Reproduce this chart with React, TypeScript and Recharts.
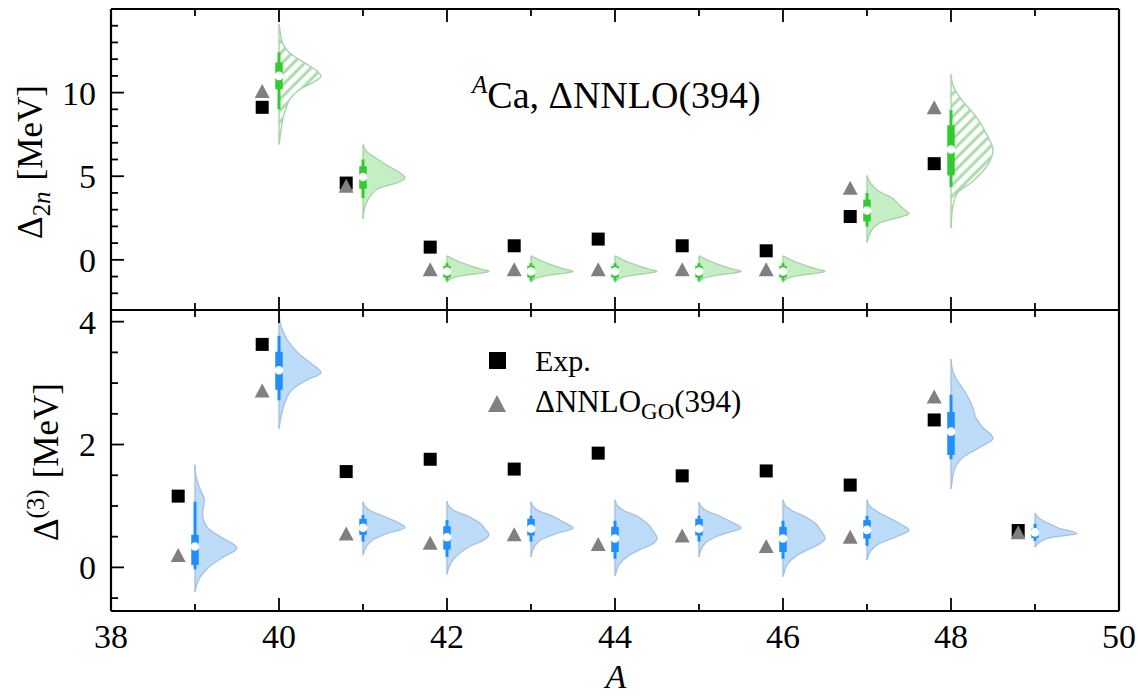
import React from 'react';
import { ComposedChart, Area, Scatter, XAxis, YAxis } from 'recharts';

const FONT = '"Liberation Serif", "Times New Roman", serif';

// ---------- shared x axis ----------
const xMajorTicks = [38, 40, 42, 44, 46, 48, 50];
const xMinorTicks = [39, 41, 43, 45, 47, 49];
const xTicks = [...xMajorTicks, ...xMinorTicks].sort((a, b) => a - b);

// ---------- top panel: Delta_2n ----------
const topYMajor = [0, 5, 10];
const topYMinor = [-3, -2, -1, 1, 2, 3, 4, 6, 7, 8, 9, 11, 12, 13, 14];
const topYTicks = [...topYMajor, ...topYMinor].sort((a, b) => a - b);

const topA = [40, 41, 42, 43, 44, 45, 46, 47, 48];
const topExp = [9.12, 4.59, 0.76, 0.84, 1.24, 0.84, 0.54, 2.59, 5.75];
const topGO = [10.1, 4.43, -0.56, -0.56, -0.56, -0.56, -0.56, 4.31, 9.12];
const topMedian = [11.0, 4.95, -0.7, -0.7, -0.7, -0.7, -0.7, 2.95, 6.6];
const topBoxLow = [10.2, 4.25, -1.06, -1.06, -1.06, -1.06, -1.06, 2.3, 5.05];
const topBoxHigh = [11.8, 5.6, -0.36, -0.36, -0.36, -0.36, -0.36, 3.6, 8.05];
const topWhiskLow = [9.0, 3.7, -1.25, -1.25, -1.25, -1.25, -1.25, 2.0, 4.35];
const topWhiskHigh = [12.4, 6.0, -0.2, -0.2, -0.2, -0.2, -0.2, 4.0, 8.96];
const topHatched = [true, false, false, false, false, false, false, false, true];

// violin profiles: [value, half-width in A units]
const topViolin40 = [[6.9, 0], [7.6, 0.02], [8.3, 0.04], [9.0, 0.08], [9.6, 0.13], [10.2, 0.25], [10.6, 0.4], [11.0, 0.5], [11.3, 0.45], [11.7, 0.33], [12.1, 0.2], [12.5, 0.1], [13.0, 0.04], [13.6, 0.015], [14.1, 0]];
const topViolin41 = [[2.45, 0], [2.9, 0.01], [3.4, 0.04], [3.9, 0.1], [4.3, 0.2], [4.6, 0.4], [4.9, 0.5], [5.2, 0.44], [5.6, 0.3], [6.0, 0.18], [6.5, 0.04], [6.9, 0]];
const topViolin42 = [[-1.36, 0], [-1.2, 0.02], [-1.06, 0.08], [-0.9, 0.24], [-0.78, 0.42], [-0.7, 0.5], [-0.56, 0.4], [-0.36, 0.28], [-0.06, 0.12], [0.1, 0.05], [0.24, 0]];
const topViolin43 = [[-1.36, 0], [-1.2, 0.02], [-1.06, 0.08], [-0.9, 0.24], [-0.78, 0.42], [-0.7, 0.5], [-0.56, 0.4], [-0.36, 0.28], [-0.06, 0.12], [0.1, 0.05], [0.24, 0]];
const topViolin44 = [[-1.36, 0], [-1.2, 0.02], [-1.06, 0.08], [-0.9, 0.24], [-0.78, 0.42], [-0.7, 0.5], [-0.56, 0.4], [-0.36, 0.28], [-0.06, 0.12], [0.1, 0.05], [0.24, 0]];
const topViolin45 = [[-1.36, 0], [-1.2, 0.02], [-1.06, 0.08], [-0.9, 0.24], [-0.78, 0.42], [-0.7, 0.5], [-0.56, 0.4], [-0.36, 0.28], [-0.06, 0.12], [0.1, 0.05], [0.24, 0]];
const topViolin46 = [[-1.36, 0], [-1.2, 0.02], [-1.06, 0.08], [-0.9, 0.24], [-0.78, 0.42], [-0.7, 0.5], [-0.56, 0.4], [-0.36, 0.28], [-0.06, 0.12], [0.1, 0.05], [0.24, 0]];
const topViolin47 = [[1.04, 0], [1.4, 0.02], [1.8, 0.06], [2.2, 0.15], [2.5, 0.35], [2.75, 0.5], [2.95, 0.46], [3.3, 0.38], [3.7, 0.3], [4.1, 0.14], [4.6, 0.04], [5.05, 0]];
const topViolin48 = [[1.9, 0], [3.1, 0.02], [3.94, 0.07], [4.75, 0.27], [5.55, 0.42], [6.55, 0.5], [7.55, 0.42], [8.55, 0.3], [9.55, 0.13], [10.35, 0.03], [11.1, 0]];
const topProfiles = [topViolin40, topViolin41, topViolin42, topViolin43, topViolin44, topViolin45, topViolin46, topViolin47, topViolin48];

// ---------- bottom panel: Delta^(3) ----------
const botYMajor = [0, 2, 4];
const botYMinor = [-0.5, 0.5, 1, 1.5, 2.5, 3, 3.5];
const botYTicks = [...botYMajor, ...botYMinor].sort((a, b) => a - b);

const botA = [39, 40, 41, 42, 43, 44, 45, 46, 47, 48, 49];
const botExp = [1.16, 3.63, 1.56, 1.76, 1.6, 1.86, 1.49, 1.57, 1.34, 2.4, 0.6];
const botGO = [0.2, 2.88, 0.55, 0.4, 0.54, 0.38, 0.52, 0.35, 0.5, 2.78, 0.57];
const botMedian = [0.34, 3.21, 0.645, 0.49, 0.63, 0.47, 0.63, 0.47, 0.61, 2.21, 0.57];
const botBoxLow = [0.04, 2.89, 0.53, 0.29, 0.52, 0.25, 0.52, 0.25, 0.47, 1.83, 0.48];
const botBoxHigh = [0.53, 3.51, 0.79, 0.67, 0.79, 0.66, 0.79, 0.66, 0.77, 2.53, 0.63];
const botWhiskLow = [-0.03, 2.72, 0.42, 0.17, 0.42, 0.14, 0.42, 0.14, 0.35, 1.76, 0.43];
const botWhiskHigh = [1.07, 3.77, 0.85, 0.77, 0.84, 0.76, 0.84, 0.76, 0.84, 2.81, 0.71];

const botViolin39 = [[-0.4, 0], [-0.16, 0.06], [0.0, 0.16], [0.17, 0.34], [0.31, 0.5], [0.5, 0.3], [0.66, 0.14], [0.87, 0.09], [1.09, 0.11], [1.31, 0.05], [1.5, 0.01], [1.67, 0]];
const botViolin40 = [[2.26, 0], [2.55, 0.04], [2.75, 0.09], [2.9, 0.16], [3.05, 0.33], [3.17, 0.5], [3.32, 0.38], [3.5, 0.22], [3.7, 0.1], [3.9, 0.03], [4.11, 0]];
const botViolin41 = [[0.2, 0], [0.34, 0.04], [0.45, 0.12], [0.55, 0.28], [0.65, 0.5], [0.74, 0.4], [0.83, 0.25], [0.93, 0.08], [1.0, 0.02], [1.07, 0]];
const botViolin42 = [[-0.11, 0], [0.0, 0.02], [0.12, 0.07], [0.23, 0.15], [0.34, 0.27], [0.44, 0.43], [0.53, 0.5], [0.61, 0.46], [0.72, 0.39], [0.82, 0.27], [0.93, 0.08], [1.0, 0.02], [1.08, 0]];
const botViolin43 = [[0.17, 0], [0.34, 0.04], [0.45, 0.12], [0.55, 0.3], [0.64, 0.5], [0.74, 0.38], [0.83, 0.26], [0.93, 0.08], [1.0, 0.02], [1.07, 0]];
const botViolin44 = [[-0.14, 0], [-0.05, 0.02], [0.05, 0.05], [0.17, 0.14], [0.28, 0.28], [0.38, 0.44], [0.47, 0.5], [0.6, 0.45], [0.72, 0.38], [0.82, 0.28], [0.93, 0.1], [1.0, 0.03], [1.1, 0]];
const botViolin45 = [[0.17, 0], [0.34, 0.04], [0.45, 0.13], [0.55, 0.3], [0.64, 0.5], [0.74, 0.38], [0.83, 0.25], [0.93, 0.08], [1.0, 0.02], [1.06, 0]];
const botViolin46 = [[-0.15, 0], [-0.05, 0.02], [0.05, 0.05], [0.17, 0.14], [0.28, 0.28], [0.38, 0.43], [0.47, 0.5], [0.6, 0.45], [0.72, 0.38], [0.82, 0.27], [0.93, 0.1], [1.0, 0.03], [1.1, 0]];
const botViolin47 = [[0.12, 0], [0.28, 0.05], [0.39, 0.15], [0.5, 0.35], [0.61, 0.5], [0.72, 0.38], [0.8, 0.27], [0.9, 0.13], [1.0, 0.03], [1.1, 0]];
const botViolin48 = [[1.28, 0], [1.47, 0.02], [1.63, 0.05], [1.8, 0.15], [1.96, 0.35], [2.1, 0.5], [2.29, 0.37], [2.45, 0.29], [2.56, 0.27], [2.72, 0.22], [2.89, 0.15], [3.05, 0.07], [3.2, 0.02], [3.39, 0]];
const botViolin49 = [[0.33, 0], [0.38, 0.03], [0.43, 0.08], [0.49, 0.2], [0.55, 0.5], [0.64, 0.28], [0.72, 0.15], [0.8, 0.05], [0.88, 0]];
const botProfiles = [botViolin39, botViolin40, botViolin41, botViolin42, botViolin43, botViolin44, botViolin45, botViolin46, botViolin47, botViolin48, botViolin49];

// ---------- styles ----------
const MARKER_SHIFT = 0.2;
const GREEN = { fill: '#c5eec5', edge: '#a7d4a7', box: '#30cc30', hatch: '#a9dba9' };
const BLUE = { fill: '#bddcfa', edge: '#a8c2de', box: '#1f8fff' };
const EXP_COLOR = '#000000';
const GO_COLOR = '#808080';
const FRAME = { stroke: '#000', strokeWidth: 2.2 };
const MAJOR_LEN = 13;
const MINOR_LEN = 7;

// ---------- shapes ----------
const NoShape = () => <g />;
const SquareShape = (p: any) => <rect x={p.cx - 6.5} y={p.cy - 6.5} width={13} height={13} fill={EXP_COLOR} />;
const TriangleShape = (p: any) => (
  <polygon points={`${p.cx},${p.cy - 7} ${p.cx - 7.5},${p.cy + 7} ${p.cx + 7.5},${p.cy + 7}`} fill={GO_COLOR} />
);
const WhiteDot = (p: any) => <circle cx={p.cx} cy={p.cy} r={4.3} fill="#ffffff" />;

const tl = (x1: number, y1: number, x2: number, y2: number) => (
  <line x1={x1} y1={y1} x2={x2} y2={y2} stroke="#000" strokeWidth={1.8} />
);

const bottomXTick = (showLabels: boolean) => (p: any) => {
  const v = p.payload.value;
  const major = xMajorTicks.includes(v);
  return (
    <g>
      {tl(p.x, p.y, p.x, p.y - (major ? MAJOR_LEN : MINOR_LEN))}
      {showLabels && major ? (
        <text x={p.x} y={p.y + 37} textAnchor="middle" fontFamily={FONT} fontSize={34} fill="#000">{v}</text>
      ) : null}
    </g>
  );
};
const topXTick = (p: any) => {
  const major = xMajorTicks.includes(p.payload.value);
  return <g>{tl(p.x, p.y, p.x, p.y + (major ? MAJOR_LEN : MINOR_LEN))}</g>;
};
const leftYTick = (majors: number[]) => (p: any) => {
  const v = p.payload.value;
  const major = majors.includes(v);
  return (
    <g>
      {tl(p.x, p.y, p.x + (major ? MAJOR_LEN : MINOR_LEN), p.y)}
      {major ? (
        <text x={p.x - 15} y={p.y} dy="0.35em" textAnchor="end" fontFamily={FONT} fontSize={34} fill="#000">{v}</text>
      ) : null}
    </g>
  );
};
const rightYTick = (majors: number[]) => (p: any) => {
  const major = majors.includes(p.payload.value);
  return <g>{tl(p.x, p.y, p.x - (major ? MAJOR_LEN : MINOR_LEN), p.y)}</g>;
};

const axisCommon = {
  allowDataOverflow: true,
  interval: 0 as const,
  tickSize: 0,
  tickMargin: 0,
  tickLine: false,
  axisLine: FRAME,
};

function violinSeries(prefix: string, A: number[], profiles: number[][][], med: number[], bLo: number[], bHi: number[], wLo: number[], wHi: number[], col: any, hatched: boolean[] | null) {
  const areas = A.map((a, i) => (
    <Area
      key={`${prefix}-v-${a}`}
      data={profiles[i].map(([v, w]) => ({ x: a + w, y: v }))}
      dataKey="x"
      baseValue={a}
      type="monotone"
      stroke={col.edge}
      strokeWidth={1.4}
      fill={hatched && hatched[i] ? 'url(#hatchGreen)' : col.fill}
      fillOpacity={1}
      dot={false}
      activeDot={false}
      isAnimationActive={false}
    />
  ));
  const edges = A.map((a, i) => {
    const p = profiles[i];
    return (
      <Scatter key={`${prefix}-e-${a}`} data={[{ x: a, y: p[0][0] }, { x: a, y: p[p.length - 1][0] }]} line={{ stroke: col.edge, strokeWidth: 1.4 }} shape={NoShape} fill={col.edge} isAnimationActive={false} />
    );
  });
  const whisk = A.map((a, i) => (
    <Scatter key={`${prefix}-w-${a}`} data={[{ x: a, y: wLo[i] }, { x: a, y: wHi[i] }]} line={{ stroke: col.box, strokeWidth: 3 }} shape={NoShape} fill={col.box} isAnimationActive={false} />
  ));
  const boxes = A.map((a, i) => (
    <Scatter key={`${prefix}-b-${a}`} data={[{ x: a, y: bLo[i] }, { x: a, y: bHi[i] }]} line={{ stroke: col.box, strokeWidth: 7.5 }} shape={NoShape} fill={col.box} isAnimationActive={false} />
  ));
  const meds = (
    <Scatter key={`${prefix}-m`} data={A.map((a, i) => ({ x: a, y: med[i] }))} shape={WhiteDot} fill="#fff" isAnimationActive={false} />
  );
  return [...areas, ...edges, ...whisk, ...boxes, meds];
}

const topExpData = topA.map((a, i) => ({ x: a - MARKER_SHIFT, y: topExp[i] }));
const topGOData = topA.map((a, i) => ({ x: a - MARKER_SHIFT, y: topGO[i] }));
const botExpData = botA.map((a, i) => ({ x: a - MARKER_SHIFT, y: botExp[i] }));
const botGOData = botA.map((a, i) => ({ x: a - MARKER_SHIFT, y: botGO[i] }));

export default function App() {
  return (
    <div style={{ position: 'absolute', left: 0, top: 0, width: 1138, height: 696, background: '#fff' }}>
      <div style={{ position: 'absolute', left: 0, top: 0 }}>
        <ComposedChart width={1138} height={320} layout="vertical" margin={{ top: 8, right: 18, bottom: 9, left: 110 }}>
          <defs>
            <pattern id="hatchGreen" patternUnits="userSpaceOnUse" width={8} height={8} patternTransform="rotate(45)">
              <line x1={4} y1={0} x2={4} y2={8} stroke={GREEN.hatch} strokeWidth={3} />
            </pattern>
          </defs>
          <XAxis xAxisId={0} type="number" dataKey="x" domain={[38, 50]} ticks={xTicks} height={1} tick={bottomXTick(false)} {...axisCommon} />
          <XAxis xAxisId="t" orientation="top" type="number" domain={[38, 50]} ticks={xTicks} height={1} tick={topXTick} {...axisCommon} />
          <YAxis yAxisId={0} type="number" dataKey="y" domain={[-3, 15]} reversed ticks={topYTicks} width={1} tick={leftYTick(topYMajor)} {...axisCommon} />
          <YAxis yAxisId="r" orientation="right" type="number" domain={[-3, 15]} reversed ticks={topYTicks} width={1} tick={rightYTick(topYMajor)} {...axisCommon} />
          {violinSeries('top', topA, topProfiles, topMedian, topBoxLow, topBoxHigh, topWhiskLow, topWhiskHigh, GREEN, topHatched)}
          <Scatter name="Exp." data={topExpData} shape={SquareShape} fill={EXP_COLOR} isAnimationActive={false} />
          <Scatter name="GO" data={topGOData} shape={TriangleShape} fill={GO_COLOR} isAnimationActive={false} />
          <text x={42} y={162} transform="rotate(-90 42 162)" textAnchor="middle" fontFamily={FONT} fontSize={35} fill="#000">
            Δ<tspan dy={8} fontSize={25}>2</tspan><tspan fontStyle="italic" fontSize={25}>n</tspan><tspan dy={-8} dx={11}>[MeV]</tspan>
          </text>
          <text x={472} y={108} fontFamily={FONT} fill="#000" fontSize={38}>
            <tspan fontStyle="italic" fontSize={25} dy={-15}>A</tspan><tspan dy={15}>Ca, ΔNNLO(394)</tspan>
          </text>
        </ComposedChart>
      </div>
      <div style={{ position: 'absolute', left: 0, top: 300 }}>
        <ComposedChart width={1138} height={396} layout="vertical" margin={{ top: 9, right: 18, bottom: 84, left: 110 }}>
          <XAxis xAxisId={0} type="number" dataKey="x" domain={[38, 50]} ticks={xTicks} height={1} tick={bottomXTick(true)} {...axisCommon} />
          <XAxis xAxisId="t" orientation="top" type="number" domain={[38, 50]} ticks={xTicks} height={1} tick={topXTick} {...axisCommon} />
          <YAxis yAxisId={0} type="number" dataKey="y" domain={[-0.71, 4.19]} reversed ticks={botYTicks} width={1} tick={leftYTick(botYMajor)} {...axisCommon} />
          <YAxis yAxisId="r" orientation="right" type="number" domain={[-0.71, 4.19]} reversed ticks={botYTicks} width={1} tick={rightYTick(botYMajor)} {...axisCommon} />
          {violinSeries('bot', botA, botProfiles, botMedian, botBoxLow, botBoxHigh, botWhiskLow, botWhiskHigh, BLUE, null)}
          <Scatter name="Exp." data={botExpData} shape={SquareShape} fill={EXP_COLOR} isAnimationActive={false} />
          <Scatter name="GO" data={botGOData} shape={TriangleShape} fill={GO_COLOR} isAnimationActive={false} />
          <text x={58} y={162} transform="rotate(-90 58 162)" textAnchor="middle" fontFamily={FONT} fontSize={35} fill="#000">
            Δ<tspan dy={-14} fontSize={25}>(3)</tspan><tspan dy={14} dx={11}>[MeV]</tspan>
          </text>
          <text x={616} y={388} textAnchor="middle" fontFamily={FONT} fontSize={34} fontStyle="italic" fill="#000">A</text>
          <g>
            <rect x={489} y={52} width={17} height={17} fill={EXP_COLOR} />
            <text x={535} y={71} fontFamily={FONT} fontSize={30} fill="#000">Exp.</text>
            <polygon points="497,95 488,112 506,112" fill={GO_COLOR} />
            <text x={535} y={112} fontFamily={FONT} fontSize={31} fill="#000">
              ΔNNLO<tspan dy={7} fontSize={23}>GO</tspan><tspan dy={-7}>(394)</tspan>
            </text>
          </g>
        </ComposedChart>
      </div>
    </div>
  );
}
